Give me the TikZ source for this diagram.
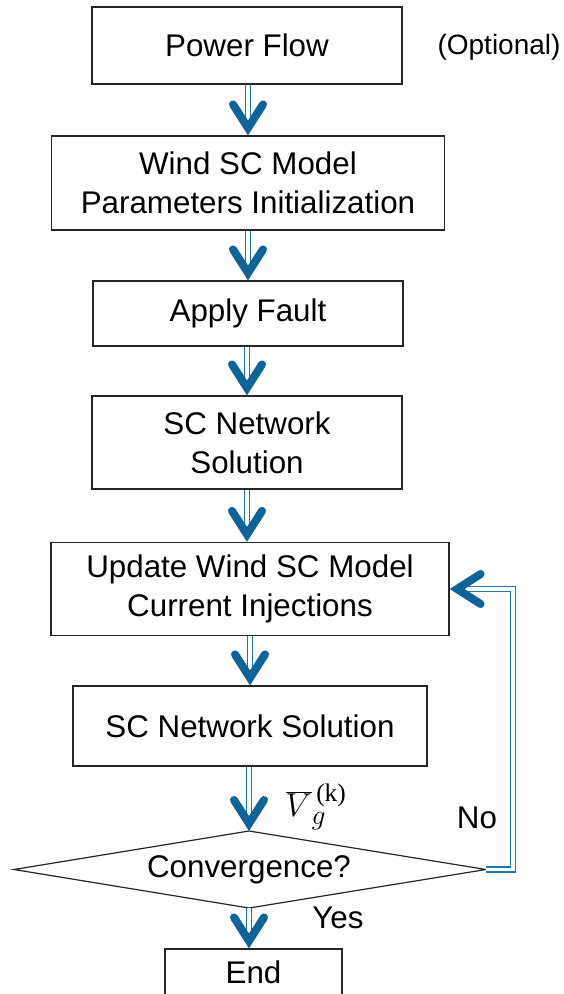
\documentclass[tikz,border=0pt]{standalone}
\usepackage{fontspec}
\setmainfont{Liberation Sans}
\newfontfamily\serifrm{Liberation Serif}
\usetikzlibrary{calc}
\definecolor{arrblue}{RGB}{16,99,153}
\definecolor{railblue}{RGB}{30,118,170}
\newcommand\chevD[1]{\draw[chev] ($(#1)+(-15,-31)$) -- ($(#1)+(0,-7.5)$) -- ($(#1)+(15,-31)$);}
\newcommand\chevL[1]{\draw[chev] ($(#1)+(31,-15)$) -- ($(#1)+(7.5,0)$) -- ($(#1)+(31,15)$);}
\begin{document}
\begin{tikzpicture}[x=0.75pt,y=-0.75pt,
 box/.style={draw=black!85, line width=0.9pt, fill=white, align=center, inner sep=0pt, font=\fontsize{23.5}{29}\selectfont},
 lbl/.style={inner sep=0pt, font=\fontsize{23.5}{29}\selectfont},
 dbl/.style={draw=railblue, line width=1.4pt, double=white, double distance=2.4pt},
 chev/.style={draw=arrblue, line width=6pt, line cap=round, line join=miter, miter limit=10}]
\useasboundingbox (0,0) rectangle (563,994);
\clip (0,0) rectangle (563,994);
\node[box, minimum width=310*0.75pt, minimum height=77*0.75pt] (pf) at (247,45.5) {Power Flow};
\node[inner sep=0pt, font=\fontsize{21}{25}\selectfont] (opt) at (499,47) {(Optional)};
\node[box, minimum width=393*0.75pt, minimum height=94*0.75pt] (wsc) at (248,183) {Wind SC Model\\Parameters Initialization};
\node[box, minimum width=310*0.75pt, minimum height=65*0.75pt] (af) at (248,313.5) {Apply Fault};
\node[box, minimum width=310*0.75pt, minimum height=93*0.75pt] (scn) at (247,442.5) {SC Network\\Solution};
\node[box, minimum width=398*0.75pt, minimum height=93*0.75pt] (upd) at (250,589) {Update Wind SC Model\\Current Injections};
\node[box, minimum width=354*0.75pt, minimum height=80*0.75pt] (scn2) at (250,726) {SC Network Solution};
% diamond
\coordinate (dtop) at (249,831);
\coordinate (dbot) at (249,908);
\coordinate (dleft) at (14,869.5);
\coordinate (dright) at (486,869.5);
\draw[black!85, line width=0.9pt] (dtop) -- (dright) -- (dbot) -- (dleft) -- cycle;
\node[lbl] (conv) at (249,870) {Convergence?};
\node[box, minimum width=177*0.75pt, minimum height=46*0.75pt] (end) at (253.5,972) {End};
% labels
\node[inner sep=0pt, font=\fontsize{30}{32}\selectfont] (vg) at (316,807) {$\overline{V}_{g}^{\,\mbox{\serifrm\fontsize{19}{19}\selectfont(k)}}$};
\node[lbl] (no) at (477,818) {No};
\node[lbl] (yes) at (338,918) {Yes};
% arrows
\draw[dbl] (pf.south -| wsc.north) -- ($(wsc.north)+(0,-12)$);
\chevD{wsc.north}
\draw[dbl] (wsc.south -| af.north) -- ($(af.north)+(0,-12)$);
\chevD{af.north}
\draw[dbl] (af.south -| scn.north) -- ($(scn.north)+(0,-12)$);
\chevD{scn.north}
\draw[dbl] (scn.south) -- ($(scn.south |- upd.north)+(0,-12)$);
\chevD{scn.south |- upd.north}
\draw[dbl] (upd.south) -- ($(scn2.north)+(0,-12)$);
\chevD{scn2.north}
\draw[dbl] (scn2.south -| dtop) -- ($(dtop)+(0,-12)$);
\chevD{dtop}
\draw[dbl] (dbot) -- ($(dbot |- end.north)+(0,-12)$);
\chevD{dbot |- end.north}
\coordinate (lp) at (513,869.5);
\draw[dbl] (dright) -- (lp) |- ($(upd.east)+(12,0)$);
\chevL{upd.east}
\end{tikzpicture}
\end{document}
